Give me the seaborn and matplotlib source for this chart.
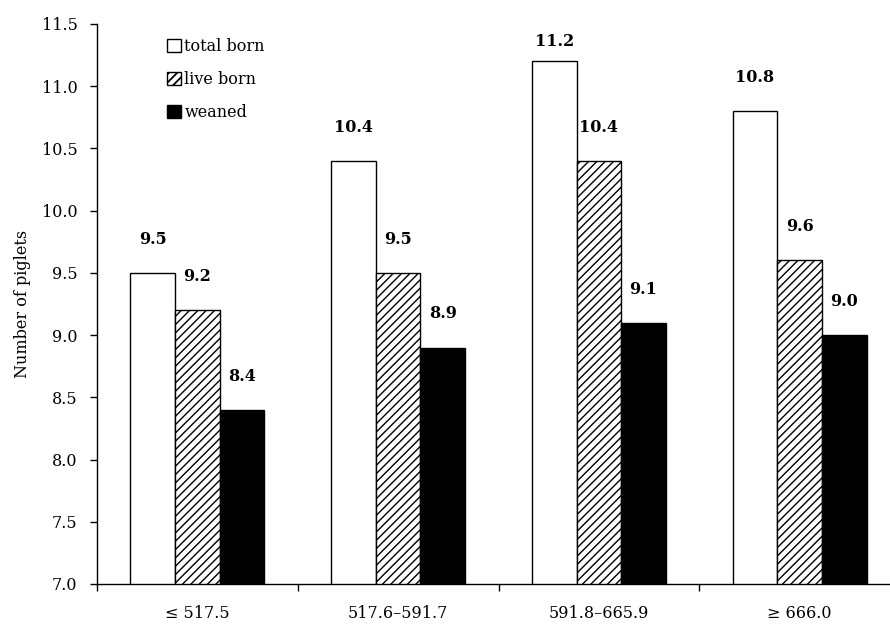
import numpy as np
import pandas as pd
import matplotlib
matplotlib.use("Agg")
import matplotlib.pyplot as plt
import seaborn as sns
from matplotlib.patches import Patch

sns.set_style("ticks")
plt.rcParams["font.family"] = ["DejaVu Serif"]
plt.rcParams["text.color"] = "black"
plt.rcParams["xtick.color"] = "black"
plt.rcParams["ytick.color"] = "black"
plt.rcParams["axes.labelcolor"] = "black"

# data
groups = ["\u2264 517.5", "517.6\u2013591.7", "591.8\u2013665.9", "\u2265 666.0"]
total_born = [9.5, 10.4, 11.2, 10.8]
live_born = [9.2, 9.5, 10.4, 9.6]
weaned = [8.4, 8.9, 9.1, 9.0]
series = ["total born", "live born", "weaned"]

df = pd.DataFrame({
    "group": groups * 3,
    "series": [series[0]] * 4 + [series[1]] * 4 + [series[2]] * 4,
    "value": total_born + live_born + weaned,
})

fig = plt.figure(figsize=(8.9, 6.25), dpi=100)
ax = fig.add_axes([0.109, 0.0656, 0.891, 0.896])

sns.barplot(data=df, x="group", y="value", hue="series", hue_order=series,
            order=groups, width=0.667, palette=["white", "white", "black"],
            edgecolor="black", linewidth=1.0, saturation=1, legend=False, ax=ax)

plt.rcParams["hatch.linewidth"] = 1.3
for bar in ax.containers[1]:
    bar.set_hatch("////")

# value labels above bars
for cont, vals in zip(ax.containers, [total_born, live_born, weaned]):
    for bar, v in zip(cont, vals):
        x = bar.get_x() + bar.get_width() / 2
        y = min(v + 0.27, 11.36)
        ax.text(x, y, f"{v:.1f}", ha="center", va="center",
                fontsize=11.5, fontweight="bold", color="black")

ax.set_ylim(7.0, 11.5)
ax.set_yticks(np.arange(7.0, 11.51, 0.5))
ax.set_yticklabels([f"{t:.1f}" for t in np.arange(7.0, 11.51, 0.5)], fontsize=11.5)
ax.set_xlim(-0.5, 3.45)
ax.set_xticks(range(4))
ax.set_xticklabels(groups, fontsize=11.5)
ax.set_xticks([-0.5, 0.5, 1.5, 2.5], minor=True)
ax.tick_params(axis="x", which="major", length=0, pad=15)
ax.tick_params(axis="x", which="minor", length=5, width=1, direction="out", color="black")
ax.tick_params(axis="y", length=5, width=1, direction="out", color="black", pad=9)
ax.set_xlabel("")
ax.set_ylabel("Number of piglets", fontsize=11.5, labelpad=8)
for s in ["top", "right"]:
    ax.spines[s].set_visible(False)
for s in ["left", "bottom"]:
    ax.spines[s].set_color("black")
    ax.spines[s].set_linewidth(1)

handles = [Patch(facecolor="white", edgecolor="black"),
           Patch(facecolor="white", edgecolor="black", hatch="////"),
           Patch(facecolor="black", edgecolor="black")]
ax.legend(handles, series, loc="upper left", bbox_to_anchor=(0.07, 1.0),
          frameon=False, fontsize=11.5, handlelength=0.9, handleheight=0.9,
          handletextpad=0.2, labelspacing=1.0)

fig.savefig("out.png", dpi=100)
